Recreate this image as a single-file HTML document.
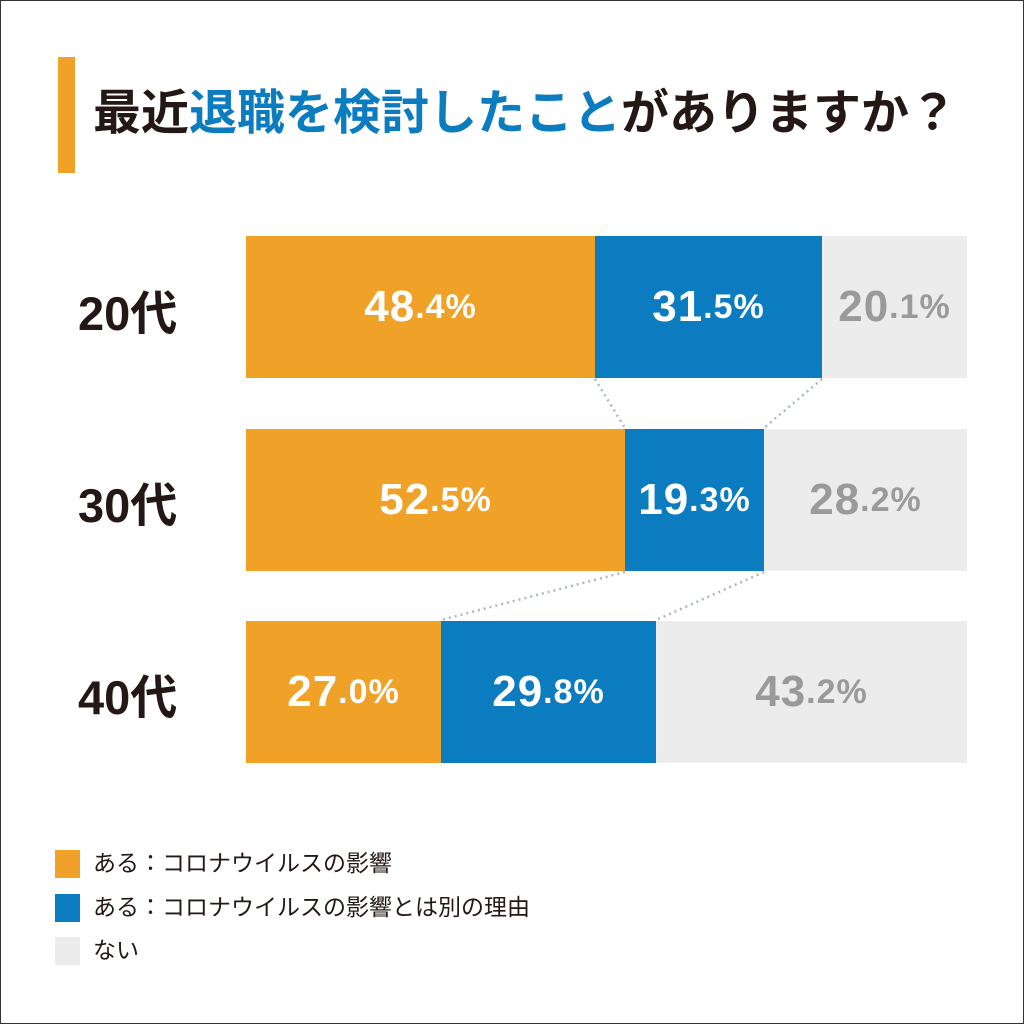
<!DOCTYPE html>
<html><head><meta charset="utf-8"><style>
*{margin:0;padding:0;box-sizing:border-box}
body{width:1024px;height:1024px;background:#fff;position:relative;overflow:hidden;font-family:"Liberation Sans","Noto Sans CJK JP",sans-serif}
.frame{position:absolute;left:0;top:0;width:1024px;height:1024px;border:1px solid #333}
.a{position:absolute}
.seg{position:absolute;height:142px;display:flex;align-items:center;justify-content:center;font-weight:bold;font-size:44px;letter-spacing:1px}
.seg small{font-size:34px}
.o{background:#f0a127;color:#fff}.b{background:#0c7cc1;color:#fff}.g{background:#ececec;color:#9a9a9a}
.age{position:absolute;left:78px;font-size:47px;font-weight:bold;color:#231815;line-height:1}
.lg{position:absolute;left:55px;width:25px;height:28px}
.lt{position:absolute;left:93px;font-size:23px;color:#231815;line-height:1}
</style></head><body>
<div class="frame"></div>
<div class="a" style="left:58px;top:57px;width:17px;height:116px;background:#f0a127"></div>
<div class="a" style="left:93px;top:85px;font-size:48px;font-weight:bold;color:#231815;line-height:1.2;white-space:nowrap">最近<span style="color:#0c7cc1">退職を検討したこと</span>がありますか？</div>

<div class="age" style="top:290px">20代</div>
<div class="age" style="top:482px">30代</div>
<div class="age" style="top:674px">40代</div>

<div class="seg o" style="left:246px;top:236px;width:349px">48<small>.4%</small></div>
<div class="seg b" style="left:595px;top:236px;width:227px">31<small>.5%</small></div>
<div class="seg g" style="left:822px;top:236px;width:145px">20<small>.1%</small></div>

<div class="seg o" style="left:246px;top:429px;width:379px">52<small>.5%</small></div>
<div class="seg b" style="left:625px;top:429px;width:139px">19<small>.3%</small></div>
<div class="seg g" style="left:764px;top:429px;width:203px">28<small>.2%</small></div>

<div class="seg o" style="left:246px;top:621px;width:195px">27<small>.0%</small></div>
<div class="seg b" style="left:441px;top:621px;width:215px">29<small>.8%</small></div>
<div class="seg g" style="left:656px;top:621px;width:311px">43<small>.2%</small></div>

<svg class="a" style="left:0;top:0" width="1024" height="1024">
<g stroke="#a9b8c4" stroke-width="2.5" stroke-dasharray="2 4" fill="none">
<line x1="595" y1="379" x2="625" y2="428"/>
<line x1="822" y1="379" x2="764" y2="428"/>
<line x1="625" y1="572" x2="441" y2="620"/>
<line x1="764" y1="572" x2="656" y2="620"/>
</g></svg>

<div class="lg" style="top:850px;background:#f0a127"></div>
<div class="lg" style="top:894px;background:#0c7cc1"></div>
<div class="lg" style="top:937px;background:#ececec"></div>
<div class="lt" style="top:852px">ある：コロナウイルスの影響</div>
<div class="lt" style="top:896px">ある：コロナウイルスの影響とは別の理由</div>
<div class="lt" style="top:939px">ない</div>
</body></html>
